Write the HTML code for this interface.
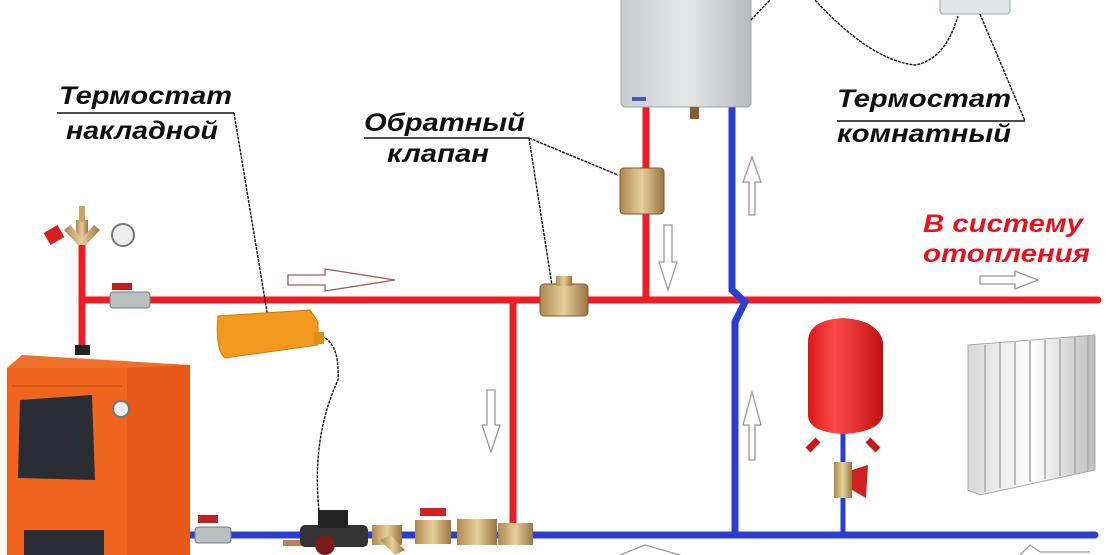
<!DOCTYPE html>
<html><head><meta charset="utf-8"><style>
html,body{margin:0;padding:0;background:#fff;}
svg{display:block}
text{font-family:"Liberation Sans","DejaVu Sans",sans-serif;font-style:italic;font-weight:bold;}
</style></head><body>
<svg width="1110" height="555" viewBox="0 0 1110 555" xmlns="http://www.w3.org/2000/svg">
<defs>
<linearGradient id="gb" x1="0" x2="1"><stop offset="0" stop-color="#c9cbcd"/><stop offset=".5" stop-color="#e6e7e8"/><stop offset="1" stop-color="#b8babc"/></linearGradient>
<linearGradient id="br" x1="0" x2="1"><stop offset="0" stop-color="#b08850"/><stop offset=".5" stop-color="#e6cf9a"/><stop offset="1" stop-color="#9a7440"/></linearGradient>
<linearGradient id="tank" x1="0" x2="1"><stop offset="0" stop-color="#d81818"/><stop offset=".35" stop-color="#ff4a4a"/><stop offset="1" stop-color="#c01010"/></linearGradient>
<linearGradient id="rad" x1="0" x2="1"><stop offset="0" stop-color="#d8d8d8"/><stop offset=".5" stop-color="#ffffff"/><stop offset="1" stop-color="#bdbdbd"/></linearGradient>
</defs>
<!-- pipes -->
<g stroke-linecap="round" fill="none">
<path d="M82 230 V345" stroke="#ee1c24" stroke-width="7"/>
<path d="M82 300 H1098" stroke="#ee1c24" stroke-width="7"/>
<path d="M513 300 V532" stroke="#ee1c24" stroke-width="7"/>
<path d="M646 105 V300" stroke="#ee1c24" stroke-width="7"/>
<path d="M732 108 V290 L745 302 L735 322 V532" stroke="#2b3fcf" stroke-width="7"/>
<path d="M185 535 H1095" stroke="#2b3fcf" stroke-width="7"/>
<path d="M843 430 V535" stroke="#2b3fcf" stroke-width="5"/>
</g>
<!-- gas boiler -->
<rect x="621" y="-5" width="130" height="112" rx="4" fill="url(#gb)" stroke="#a0a2a4"/>
<rect x="632" y="97" width="14" height="4" fill="#3a5bc0"/>
<rect x="690" y="107" width="9" height="12" fill="#8a5a30"/>
<!-- room thermostat -->
<rect x="940" y="-6" width="70" height="20" rx="3" fill="#dfe6ea" stroke="#9aa"/>
<!-- wires -->
<g fill="none" stroke="#111" stroke-width="1.4" stroke-dasharray="3 1">
<path d="M751 20 Q765 5 770 0"/>
<path d="M815 0 Q870 60 915 65 Q945 60 958 16"/>
<path d="M980 14 L1025 121"/>
<path d="M234 113 L270 330"/>
<path d="M529 138 L553 292"/>
<path d="M529 138 L618 175"/>
<path d="M318 335 Q340 340 338 380 Q310 440 320 520"/>
</g>
<g stroke="#111" stroke-width="1.4">
<line x1="57" y1="113" x2="234" y2="113"/>
<line x1="364" y1="138" x2="529" y2="138"/>
<line x1="837" y1="121" x2="1025" y2="121"/>
</g>
<!-- labels -->
<text x="59" y="104" font-size="25" fill="#111" textLength="173" lengthAdjust="spacingAndGlyphs">Термостат</text>
<text x="66" y="139" font-size="25" fill="#111" textLength="152" lengthAdjust="spacingAndGlyphs">накладной</text>
<text x="364" y="131" font-size="25" fill="#111" textLength="161" lengthAdjust="spacingAndGlyphs">Обратный</text>
<text x="387" y="162" font-size="25" fill="#111" textLength="102" lengthAdjust="spacingAndGlyphs">клапан</text>
<text x="837" y="107" font-size="25" fill="#111" textLength="174" lengthAdjust="spacingAndGlyphs">Термостат</text>
<text x="837" y="142" font-size="25" fill="#111" textLength="174" lengthAdjust="spacingAndGlyphs">комнатный</text>
<text x="923" y="232" font-size="25" fill="#e3141e" textLength="160" lengthAdjust="spacingAndGlyphs">В систему</text>
<text x="923" y="262" font-size="25" fill="#e3141e" textLength="167" lengthAdjust="spacingAndGlyphs">отопления</text>
<!-- hollow arrows -->
<g fill="#fff" stroke="#a06060" stroke-width="1.3">
<path d="M288 275 H325 V269 L395 280 L325 291 V285 H288 Z"/>
<path d="M980 276 H1015 V271 L1038 280 L1015 289 V284 H980 Z" stroke="#999"/>
<path d="M664 225 V262 H659 L668 290 L677 262 H672 V225 Z" stroke="#999"/>
<path d="M487 390 V425 H482 L491 452 L500 425 H495 V390 Z" stroke="#999"/>
<path d="M749 215 V182 H743 L752 157 L761 182 H755 V215 Z" stroke="#999"/>
<path d="M749 460 V425 H743 L752 392 L761 425 H755 V460 Z" stroke="#999"/>
<path d="M1090 552 H1040 L1030 545 L1020 555" stroke="#999"/>
<path d="M680 555 L645 545 L620 555" stroke="#999"/>
</g>
<!-- safety group -->
<rect x="76" y="220" width="12" height="22" fill="url(#br)"/>
<path d="M70 225 L82 238 L94 225 L100 230 L86 245 L78 245 L64 230Z" fill="url(#br)"/>
<rect x="46" y="228" width="16" height="14" fill="#d62020" transform="rotate(-30 54 235)"/>
<circle cx="123" cy="235" r="11" fill="#eee" stroke="#777" stroke-width="2"/>
<rect x="79" y="206" width="6" height="16" fill="#c9a860"/>
<!-- valve top -->
<rect x="110" y="292" width="40" height="16" rx="3" fill="#b8c0c0" stroke="#778"/>
<rect x="112" y="283" width="20" height="7" fill="#c02020"/>
<!-- check valves -->
<rect x="540" y="284" width="48" height="32" rx="4" fill="url(#br)" stroke="#7a5a30"/>
<rect x="556" y="276" width="16" height="10" fill="url(#br)"/>
<rect x="620" y="168" width="44" height="46" rx="4" fill="url(#br)" stroke="#7a5a30"/>
<!-- surface thermostat -->
<path d="M218 316 L310 310 L318 322 L318 345 L225 358 Q215 350 218 316Z" fill="#f39a1e" stroke="#d07a10"/>
<rect x="314" y="332" width="10" height="12" fill="#e0901a"/>
<!-- solid fuel boiler -->
<rect x="75" y="345" width="15" height="10" fill="#222"/>
<path d="M7 368 L22 355 L190 365 L185 380 Z" fill="#f0702a"/>
<rect x="7" y="368" width="120" height="190" fill="#f0651e"/>
<path d="M127 368 L190 365 L190 555 L127 555 Z" fill="#e85818"/>
<rect x="12" y="385" width="110" height="2" fill="#d8561a"/>
<path d="M20 400 L92 395 L95 480 L18 478 Z" fill="#2a2d33"/>
<rect x="24" y="530" width="80" height="25" fill="#2a2d33"/>
<circle cx="121" cy="409" r="8" fill="#eee" stroke="#777" stroke-width="2"/>
<!-- bottom fittings -->
<rect x="195" y="527" width="36" height="16" rx="3" fill="#b8c0c0" stroke="#778"/>
<rect x="198" y="515" width="20" height="8" fill="#c02020"/>
<rect x="283" y="540" width="20" height="6" fill="#c08050"/>
<rect x="300" y="525" width="68" height="22" rx="5" fill="#333"/>
<rect x="318" y="510" width="30" height="18" fill="#222"/>
<circle cx="325" cy="545" r="10" fill="#7a1a1a"/>
<rect x="372" y="525" width="30" height="20" fill="url(#br)"/>
<path d="M380 540 L395 555 L405 550 L390 535Z" fill="url(#br)"/>
<rect x="415" y="520" width="36" height="24" fill="url(#br)"/>
<rect x="420" y="508" width="26" height="8" fill="#d52020"/>
<rect x="457" y="519" width="40" height="26" fill="url(#br)"/>
<rect x="498" y="523" width="35" height="22" fill="url(#br)"/>
<!-- expansion tank -->
<path d="M818 440 L808 450 M868 440 L878 450" stroke="#c81818" stroke-width="7"/>
<path d="M808 342 Q808 320 843 318 Q878 320 883 342 V415 Q880 432 843 434 Q808 432 808 415 Z" fill="url(#tank)"/>
<rect x="834" y="462" width="18" height="36" fill="url(#br)"/>
<path d="M852 470 L868 465 L866 498 L852 490Z" fill="#d02020"/>
<!-- radiator -->
<g>
<path d="M968 345 L1095 335 L1095 470 L980 495 L968 490 Z" fill="url(#rad)" stroke="#aaa"/>
<g stroke="#a8a8a8" stroke-width="1.5">
<line x1="985" y1="345" x2="985" y2="492"/><line x1="1000" y1="343" x2="1000" y2="488"/>
<line x1="1015" y1="342" x2="1015" y2="485"/><line x1="1030" y1="341" x2="1030" y2="482"/>
<line x1="1045" y1="340" x2="1045" y2="479"/><line x1="1060" y1="339" x2="1060" y2="476"/>
<line x1="1075" y1="337" x2="1075" y2="473"/><line x1="1088" y1="336" x2="1088" y2="471"/>
</g>
</g>
</svg>
</body></html>
